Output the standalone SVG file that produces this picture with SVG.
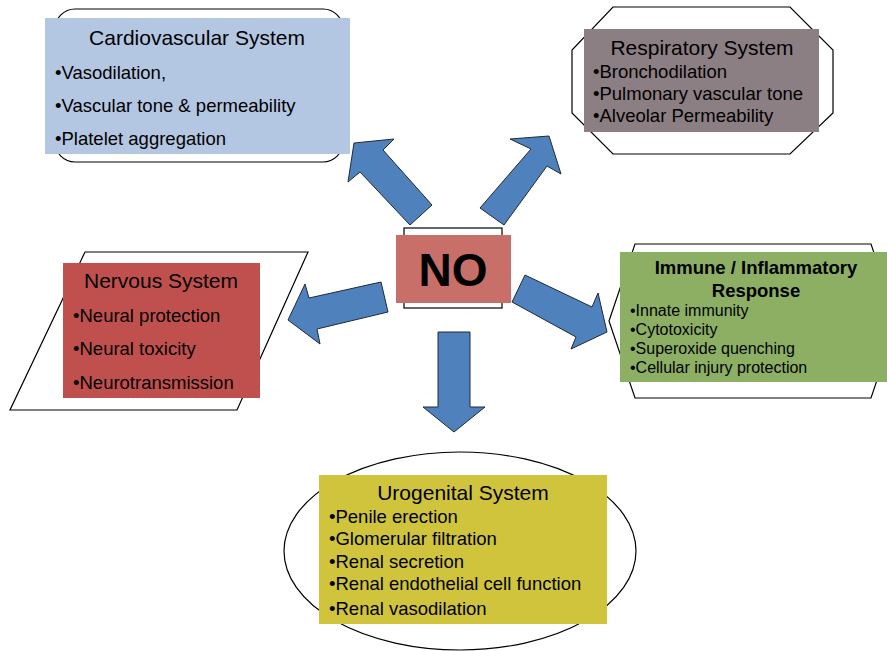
<svg xmlns="http://www.w3.org/2000/svg" width="887" height="651" viewBox="0 0 887 651">
<style>
.outline{fill:#fff;stroke:#000;stroke-width:1.2}
.t{font-family:"Liberation Sans",Arial,sans-serif;fill:#000}
.title{font-size:21px}
.b{font-size:18.5px}
.bs{font-size:16px}
.arrow{fill:#4F81BD;stroke:#1F2A3A;stroke-width:1}
</style>
<rect width="887" height="651" fill="#fff"/>
<g id="cardiovascular">
<rect class="outline" x="55" y="9" width="288" height="153" rx="20" ry="20"/>
<rect x="45" y="18" width="305" height="136" fill="#B4C7E2"/>
<text class="t title" x="197" y="45" text-anchor="middle">Cardiovascular System</text>
<text class="t b" x="55" y="79">•Vasodilation,</text>
<text class="t b" x="55" y="112">•Vascular tone &amp; permeability</text>
<text class="t b" x="55" y="145">•Platelet aggregation</text>
</g>
<g id="respiratory">
<polygon class="outline" points="613,7 790,7 833,50 833,113 790,154 613,154 572,113 572,50"/>
<rect x="584" y="29" width="235" height="103" fill="#8C7F83"/>
<text class="t title" x="702" y="55" text-anchor="middle">Respiratory System</text>
<text class="t b" x="593" y="78">•Bronchodilation</text>
<text class="t b" x="593" y="100">•Pulmonary vascular tone</text>
<text class="t b" x="593" y="122">•Alveolar Permeability</text>
</g>
<g id="nervous">
<polygon class="outline" points="85,252 308,252 237,410 10,410"/>
<rect x="63" y="263" width="197" height="135" fill="#C0504D"/>
<text class="t title" x="161" y="288" text-anchor="middle">Nervous System</text>
<text class="t b" x="73" y="322">•Neural protection</text>
<text class="t b" x="73" y="355">•Neural toxicity</text>
<text class="t b" x="73" y="389">•Neurotransmission</text>
</g>
<g id="immune">
<polygon class="outline" points="635,244 871,244 897,321 871,398 635,398 609,321"/>
<rect x="620" y="252" width="267" height="130" fill="#8CAF64"/>
<text class="t" x="756" y="274" text-anchor="middle" font-size="18.5" font-weight="bold">Immune / Inflammatory</text>
<text class="t" x="756" y="297" text-anchor="middle" font-size="18.5" font-weight="bold">Response</text>
<text class="t bs" x="630" y="316">•Innate immunity</text>
<text class="t bs" x="630" y="335">•Cytotoxicity</text>
<text class="t bs" x="630" y="354">•Superoxide quenching</text>
<text class="t bs" x="630" y="373">•Cellular injury protection</text>
</g>
<g id="urogenital">
<ellipse class="outline" cx="460" cy="551" rx="176" ry="99"/>
<rect x="319" y="475" width="288" height="149" fill="#CFC43B"/>
<text class="t title" x="463" y="500" text-anchor="middle">Urogenital System</text>
<text class="t b" x="329" y="523">•Penile erection</text>
<text class="t b" x="329" y="545">•Glomerular filtration</text>
<text class="t b" x="329" y="568">•Renal secretion</text>
<text class="t b" x="329" y="590">•Renal endothelial cell function</text>
<text class="t b" x="329" y="615">•Renal vasodilation</text>
</g>
<g id="no">
<rect class="outline" x="404" y="228" width="98" height="80"/>
<rect x="396" y="235" width="115" height="68" fill="#C96F6A"/>
<text class="t" x="453" y="286" text-anchor="middle" font-size="46" font-weight="bold">NO</text>
</g>
<g id="connectors">
<polygon class="arrow" points="354,143 394,139 383,150 432,205 410,225 360,172 348,182"/>
<polygon class="arrow" points="549,136 561,174 547,166 504,225 480,208 531,149 510,139"/>
<polygon class="arrow" points="288,320 305,284 309,298 381,282 388,312 317,329 320,344"/>
<polygon class="arrow" points="525,275 592,307 598,293 607,332 571,349 576,337 512,302"/>
<polygon class="arrow" points="438,332 470,332 470,407 485,407 454,432 423,407 438,407"/>
</g>
</svg>
